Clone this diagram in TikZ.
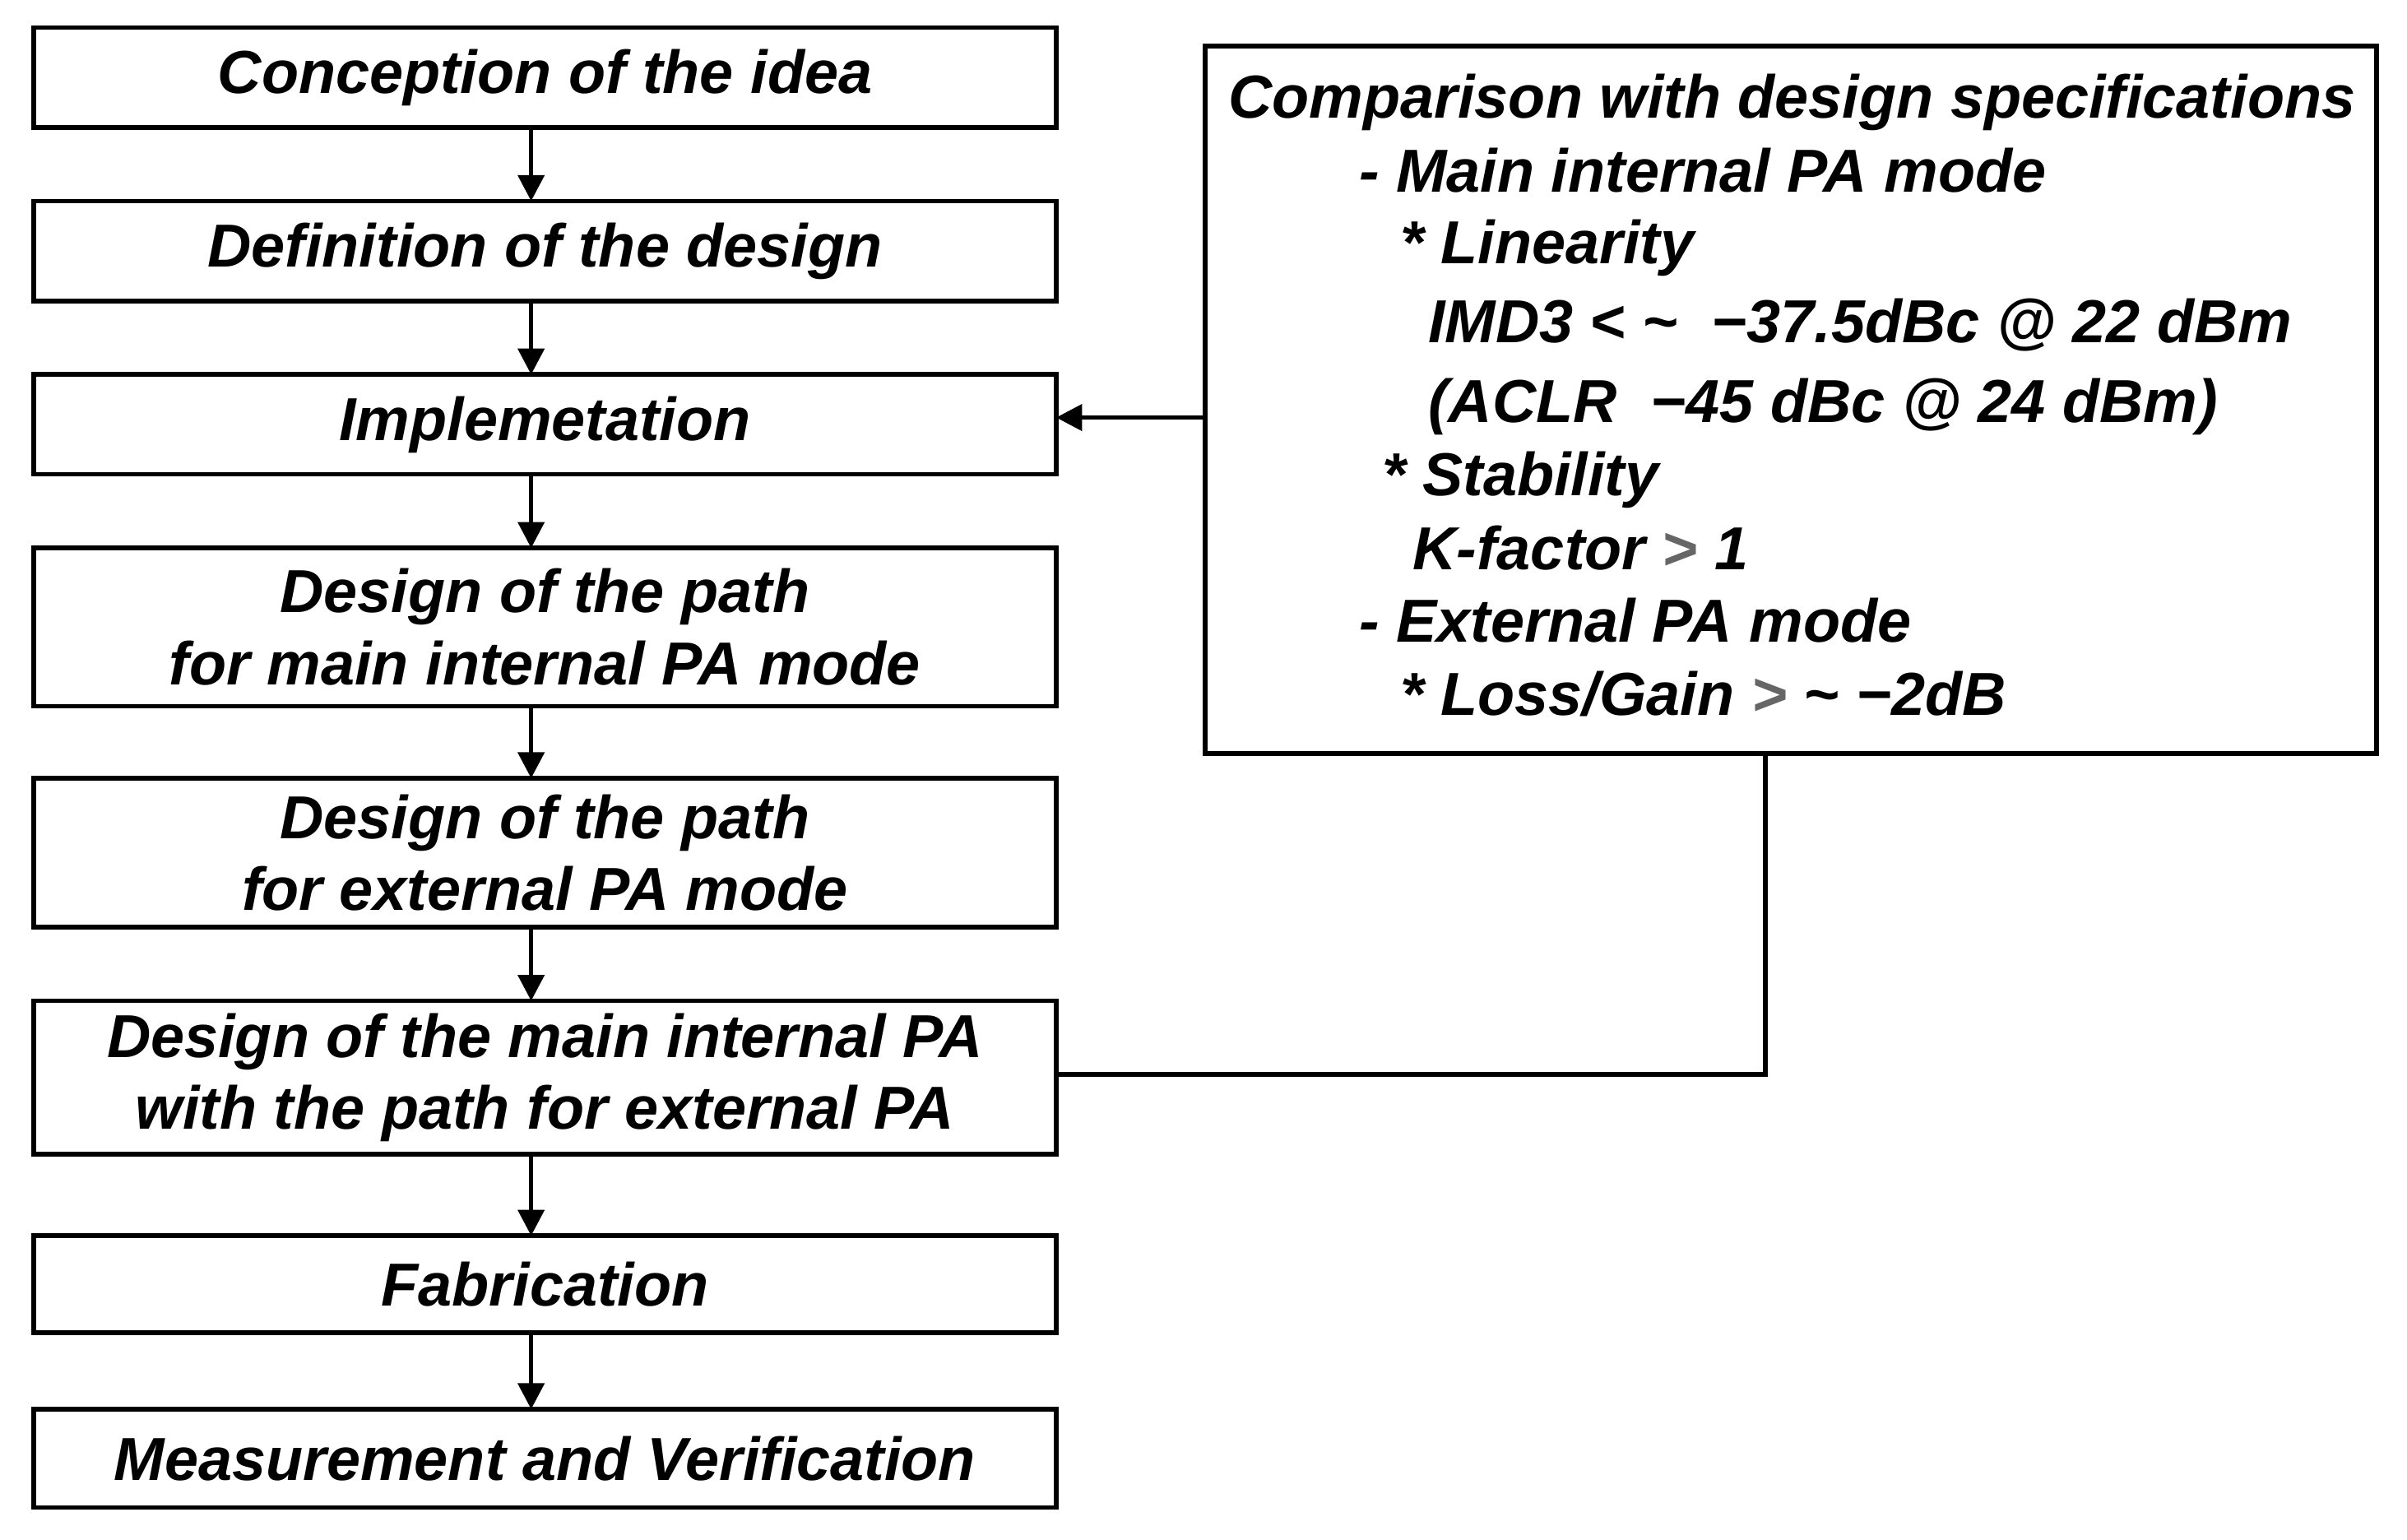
\documentclass[tikz,border=0pt]{standalone}
\usepackage{fontspec}
\setmainfont{Liberation Sans}
\usetikzlibrary{arrows.meta}
\begin{document}
\begin{tikzpicture}[x={0.01866cm},y={-0.01866cm},
  font=\fontsize{21}{25}\selectfont\bfseries\itshape,
  box/.style={draw,line width=1.6pt,inner sep=0pt},
  lab/.style={align=center},
  ln/.style={anchor=base west,inner sep=0pt},
  arr/.style={line width=1.6pt,-{Triangle[length=9pt,width=9pt]}}]
\useasboundingbox (0,0) rectangle (1568,1002.7);
\foreach \n/\t/\b in {b1/18/83,b2/131/196,b3/244/309,b4/357/460,b5/507/604,b6/652/752,b7/805/868,b8/918/982}
  \draw[box] (22,\t) rectangle (688,\b) coordinate[pos=0.5] (\n);
\node[lab] (t1) at (b1) {Conception of the idea};
\node[lab] (t2) at (b2) {Definition of the design};
\node[lab] (t3) at (b3) {Implemetation};
\node[lab] (t4) at (b4) {Design of the path\\for main internal PA mode};
\node[lab] (t5) at (b5) {Design of the path\\for external PA mode};
\node[lab] (t6) at (b6) {Design of the main internal PA\\with the path for external PA};
\node[lab] (t7) at (b7) {Fabrication};
\node[lab] (t8) at (b8) {Measurement and Verification};
\coordinate (a1) at (346,83); \coordinate (e1) at (346,131);
\draw[arr] (a1) -- (e1);
\coordinate (a2) at (346,196); \coordinate (e2) at (346,244);
\draw[arr] (a2) -- (e2);
\coordinate (a3) at (346,309); \coordinate (e3) at (346,357);
\draw[arr] (a3) -- (e3);
\coordinate (a4) at (346,460); \coordinate (e4) at (346,507);
\draw[arr] (a4) -- (e4);
\coordinate (a5) at (346,604); \coordinate (e5) at (346,652);
\draw[arr] (a5) -- (e5);
\coordinate (a6) at (346,752); \coordinate (e6) at (346,805);
\draw[arr] (a6) -- (e6);
\coordinate (a7) at (346,868); \coordinate (e7) at (346,918);
\draw[arr] (a7) -- (e7);
\draw[box] (785,30) rectangle (1548,491);
\coordinate (rl) at (785,272); \coordinate (b3r) at (688,272);
\draw[arr] (rl) -- (b3r);
\coordinate (b6r) at (688,700); \coordinate (rb) at (1150,491);
\draw[line width=1.6pt] (b6r) -- (1150,700) -- (rb);
\node[ln] (r1) at (800,77) {Comparison with design specifications};
\node[ln] (r2) at (885,125) {- Main internal PA mode};
\node[ln] (r3) at (912,172) {* Linearity};
\node[ln] (r4) at (930,223) {IMD3 < \textasciitilde\ \ −37.5dBc @ 22 dBm};
\node[ln] (r5) at (930,275) {(ACLR \ −45 dBc @ 24 dBm)};
\node[ln] (r6) at (900,323) {* Stability};
\node[ln] (r7) at (920,371) {K-factor {\color{gray!80!black}>} 1};
\node[ln] (r8) at (885,418) {- External PA mode};
\node[ln] (r9) at (912,466) {* Loss/Gain {\color{gray!80!black}>} \textasciitilde\ −2dB};
\end{tikzpicture}
\end{document}
